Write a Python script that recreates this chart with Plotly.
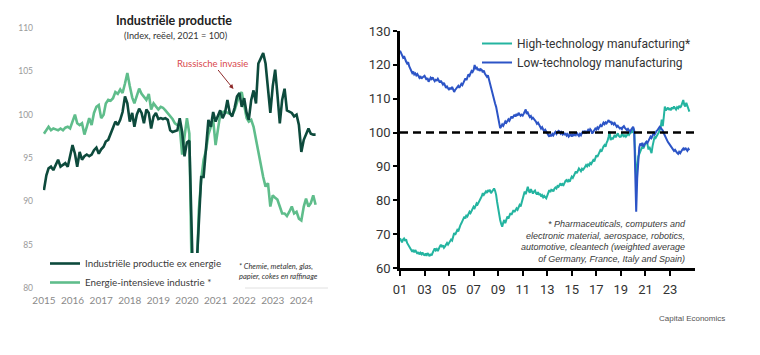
import pandas as pd
import plotly.graph_objects as go

# ---------------- Left chart data (monthly, Jan 2015 - Jul 2024) ----------------
left_start = "2015-01-01"
ind_ex_energie = [
    91.3, 93.0, 93.8, 94.0, 93.6, 94.2, 94.8, 94.0, 94.2, 94.4, 94.0, 95.2,
    96.5, 95.5, 94.0, 95.7, 94.8, 95.2, 95.4, 95.2, 95.4, 95.9, 96.2, 95.5,
    96.0, 96.3, 96.9, 97.1, 97.7, 98.5, 99.2, 98.8, 99.4, 100.3, 102.1, 101.3,
    99.2, 100.2, 98.6, 100.0, 100.7, 100.2, 99.0, 100.6, 100.2, 98.4, 99.8, 100.2,
    99.5, 99.6, 99.5, 99.6, 99.4, 98.2, 98.0, 98.1, 98.2, 99.6, 98.0, 95.2,
    96.8, 97.0, 88.0, 76.0, 82.0, 88.5, 92.8, 92.8, 95.9, 99.4, 98.6, 100.3,
    99.2, 100.0, 100.5, 99.6, 100.2, 101.7, 100.2, 99.8, 100.8, 102.1, 102.5, 100.9,
    101.9, 100.2, 99.4, 101.7, 102.8, 101.3, 105.9, 106.5, 107.1, 105.9, 102.8, 100.2,
    103.3, 105.2, 102.4, 99.0, 101.7, 103.0, 100.5, 100.3, 100.2, 99.8, 100.0, 98.8,
    95.7, 97.1, 97.7, 98.4, 97.8, 97.7, 97.7,
]
energie_intensief = [
    97.8, 98.3, 98.6, 98.2, 98.4, 98.3, 98.2, 98.4, 98.2, 98.5, 98.6, 98.4,
    99.2, 100.0, 99.0, 98.8, 99.0, 97.7, 98.6, 99.6, 98.8, 100.2, 100.9, 101.1,
    99.6, 100.0, 101.3, 101.7, 101.6, 101.9, 102.6, 102.4, 102.9, 102.5, 103.6, 104.8,
    103.3, 102.0, 101.3, 102.1, 103.0, 102.4, 102.1, 101.7, 102.4, 100.6, 101.3, 101.0,
    100.6, 100.9, 100.8, 100.5, 100.2, 99.8, 99.5, 99.0, 98.8, 98.6, 95.4, 97.7,
    99.6, 97.8, 82.0, 72.0, 80.0, 89.0, 92.5, 94.8, 95.9, 97.7, 98.6, 99.4,
    96.5, 98.6, 100.0, 100.3, 100.4, 100.2, 100.1, 100.0, 100.5, 101.5, 102.3, 102.6,
    101.2, 99.6, 99.2, 99.4, 98.6, 97.1, 95.6, 94.0, 92.8, 91.7, 92.1, 89.4,
    90.7, 90.4, 90.2, 89.4, 88.6, 88.6, 88.3, 88.8, 89.4, 88.6, 88.8, 88.0,
    87.8, 89.4, 90.3, 89.4, 89.8, 90.7, 89.6,
]
left_tick_years = ["2015", "2016", "2017", "2018", "2019", "2020", "2021", "2022", "2023", "2024"]
left_y_ticks = [80, 85, 90, 95, 100, 105, 110]

# ---------------- Right chart data (monthly, Jan 2001 - Aug 2024) ----------------
right_start = "2001-01-01"
high_tech = [
    68.8, 68.2, 67.6, 68.4, 68.7, 68.0, 68.5, 67.4, 66.8, 66.2, 65.6, 65.0,
    64.8, 65.4, 64.6, 65.3, 64.9, 64.2, 64.7, 64.0, 64.5, 64.1, 64.6, 63.9,
    63.8, 64.3, 63.6, 64.4, 64.0, 63.5, 64.2, 63.7, 64.5, 65.0, 65.8, 65.2,
    65.6, 65.0, 65.9, 66.4, 66.9, 66.2, 66.7, 66.0, 66.4, 67.0, 67.4, 66.9,
    67.5, 68.0, 68.4, 68.1, 69.2, 70.3, 69.8, 70.6, 71.2, 70.8, 72.0, 72.6,
    73.2, 73.8, 74.4, 75.2, 74.6, 75.7, 75.3, 76.0, 76.6, 76.2, 77.0, 77.6,
    78.1, 77.7, 78.6, 79.1, 78.8, 79.6, 80.3, 80.6, 81.2, 82.1, 81.6, 82.4,
    82.6, 82.2, 83.0, 82.5, 83.1, 82.1, 82.6, 83.0, 83.5, 82.8, 81.6, 79.5,
    77.1, 75.4, 74.2, 73.0, 72.2, 73.4, 74.2, 73.2, 74.5, 75.2, 74.6, 75.5,
    76.2, 75.7, 76.6, 77.1, 76.5, 77.3, 77.6, 77.2, 78.1, 78.6, 78.2, 79.4,
    80.6, 81.2, 82.6, 81.8, 83.5, 84.0, 82.8, 82.2, 83.3, 82.6, 82.0, 82.6,
    82.9, 82.1, 81.7, 82.4, 81.6, 82.0, 81.1, 81.5, 80.9, 81.3, 80.8, 80.6,
    81.4, 82.2, 83.0, 82.4, 83.1, 83.0, 82.6, 83.4, 83.8, 83.5, 84.2, 84.0,
    84.5, 85.0, 84.3, 84.8, 84.5, 85.3, 85.8, 86.0, 85.4, 85.9, 85.5, 86.3,
    87.0, 86.6, 87.4, 87.9, 88.5, 88.0, 88.7, 89.4, 89.0, 88.6, 89.3, 89.0,
    89.4, 89.9, 90.4, 90.0, 90.6, 90.3, 91.0, 90.7, 91.4, 91.9, 91.5, 92.3,
    93.3, 92.8, 93.6, 94.2, 94.8, 94.4, 95.3, 95.9, 96.3, 95.8, 97.0, 97.6,
    98.8, 100.3, 97.8, 98.5, 98.0, 98.8, 99.3, 98.6, 99.3, 99.8, 99.0, 98.7,
    98.8, 99.6, 99.3, 98.7, 99.4, 98.8, 99.2, 99.8, 99.3, 99.8, 100.3, 99.9,
    101.3, 100.4, 93.0, 86.0, 89.4, 92.9, 93.6, 94.4, 95.1, 95.9, 95.3, 96.4,
    96.8, 97.3, 96.6, 95.0, 95.8, 94.8, 93.9, 96.0, 97.5, 98.8, 98.4, 99.2,
    99.5, 100.0, 100.8, 101.6, 103.8, 101.9, 104.6, 107.7, 106.5, 106.9, 107.4, 106.7,
    107.2, 106.6, 107.5, 107.0, 107.7, 107.2, 106.8, 107.5, 107.2, 107.9, 107.3, 107.8,
    108.5, 109.6, 108.2, 107.7, 108.8, 107.9, 106.6, 106.2,
]
low_tech = [
    124.2, 123.5, 123.0, 122.2, 122.6, 121.5, 121.0, 120.4, 120.8, 119.6, 119.0, 118.2,
    117.6, 118.0, 117.2, 117.5, 116.9, 117.3, 116.8, 116.2, 116.7, 115.9, 116.3, 116.6,
    116.8, 116.2, 115.6, 116.1, 115.0, 115.5, 116.2, 115.8, 116.3, 115.7, 115.2, 115.6,
    115.4, 115.9, 115.1, 114.8, 115.3, 114.6, 114.2, 114.7, 113.8, 113.2, 113.6, 112.9,
    112.6, 113.3, 112.8, 113.5, 112.4, 112.0, 112.6, 113.0, 113.4, 113.8, 113.2, 114.0,
    114.4, 114.0, 114.8, 115.6, 116.0, 115.5, 116.4, 117.2, 116.8, 117.6, 118.2, 117.9,
    118.5, 120.0, 118.8, 119.4, 118.4, 118.9, 118.2, 118.7, 118.5, 117.8, 118.3, 117.4,
    117.0, 116.5, 116.9, 115.6, 115.0, 114.0, 112.5, 111.0, 110.0, 108.6, 107.6, 106.0,
    104.6, 103.0, 101.3, 101.8, 102.4, 102.0, 102.8, 103.3, 102.9, 103.6, 103.9, 103.5,
    104.3, 104.8, 104.2, 104.9, 105.3, 104.7, 105.5, 105.0, 105.8, 105.4, 105.0, 105.3,
    105.0, 105.6, 106.2, 106.8, 105.5, 105.9, 105.2, 104.6, 104.9, 104.1, 104.4, 103.8,
    103.6, 103.2, 102.6, 102.9, 102.1, 101.8, 101.2, 101.6, 100.9, 100.4, 100.8, 100.2,
    99.8, 99.3, 98.8, 99.4, 98.9, 99.6, 99.2, 99.8, 100.2, 99.6, 100.0, 100.5,
    100.3, 99.7, 100.1, 99.5, 99.9, 99.3, 99.8, 99.1, 99.5, 98.8, 99.2, 99.6,
    98.8, 99.4, 99.0, 99.7, 99.3, 100.0, 99.4, 99.0, 99.6, 99.2, 99.9, 100.3,
    100.0, 100.5, 99.8, 100.4, 100.8, 100.3, 101.0, 100.6, 99.7, 100.2, 100.8, 101.2,
    100.9, 101.5, 101.1, 101.8, 102.2, 101.7, 102.4, 102.9, 102.5, 103.0, 102.7, 103.3,
    103.7, 103.0, 103.4, 102.6, 102.9, 102.4, 102.8, 102.2, 101.7, 102.0, 101.5, 101.2,
    101.4, 101.0, 101.6, 101.9, 101.4, 101.0, 100.7, 101.1, 100.4, 100.2, 100.8, 101.3,
    101.7, 100.6, 88.0, 76.6, 86.5, 93.0, 95.6, 96.8, 96.2, 97.0, 95.8, 96.5,
    96.8, 97.3, 96.9, 97.6, 98.2, 98.8, 98.4, 99.2, 99.8, 99.4, 100.1, 100.5,
    100.8, 101.2, 101.7, 101.4, 101.0, 100.6, 99.8, 99.0, 98.6, 97.8, 97.2, 96.8,
    96.4, 95.9, 95.5, 95.3, 94.6, 94.9, 94.3, 94.0, 93.7, 94.3, 93.9, 94.6,
    94.9, 95.3, 94.8, 95.5, 95.1, 94.6, 95.2, 94.8,
]
right_tick_labels = ["01", "03", "05", "07", "09", "11", "13", "15", "17", "19", "21", "23"]
right_y_ticks = [60, 70, 80, 90, 100, 110, 120, 130]
reference_level = 100

# ---------------- Styling ----------------
DARK = "#0d4a3c"
LIGHT = "#5fbd8b"
TEAL = "#24b4a0"
BLUE = "#2c54c6"
NARROW = "Liberation Sans Narrow, Roboto, sans-serif"
HUMAN = "Lato, Open Sans, sans-serif"
ARIAL = "Liberation Sans, Arial, sans-serif"

# page geometry: the page body adds an 8px offset, positions below are in screen pixels
W, H, OFF = 760, 355, 8


def px(x):
    return (x - OFF) / W


def py(y):
    return 1 - (y - OFF) / H


left_dates = pd.date_range(left_start, periods=len(ind_ex_energie), freq="MS")
left_dates_b = pd.date_range(left_start, periods=len(energie_intensief), freq="MS")
right_dates_h = pd.date_range(right_start, periods=len(high_tech), freq="MS")
right_dates_l = pd.date_range(right_start, periods=len(low_tech), freq="MS")

fig = go.Figure()
fig.add_trace(go.Scatter(x=left_dates_b, y=energie_intensief, mode="lines",
                         name="Energie-intensieve industrie *", legendrank=2,
                         line=dict(color=LIGHT, width=2.6), xaxis="x", yaxis="y",
                         legend="legend"))
fig.add_trace(go.Scatter(x=left_dates, y=ind_ex_energie, mode="lines",
                         name="Industriële productie ex energie", legendrank=1,
                         line=dict(color=DARK, width=2.6), xaxis="x", yaxis="y",
                         legend="legend"))
fig.add_trace(go.Scatter(x=right_dates_h, y=high_tech, mode="lines",
                         name="High-technology manufacturing*",
                         line=dict(color=TEAL, width=2), xaxis="x2", yaxis="y2",
                         legend="legend2"))
fig.add_trace(go.Scatter(x=right_dates_l, y=low_tech, mode="lines",
                         name="Low-technology manufacturing",
                         line=dict(color=BLUE, width=2), xaxis="x2", yaxis="y2",
                         legend="legend2"))

left_tickvals = [f"{y}-01-01" for y in left_tick_years]
right_tickvals = [f"20{t}-01-01" for t in right_tick_labels]

axis_black = dict(showgrid=False, zeroline=False, showline=True, linecolor="black",
                  linewidth=2.5, ticks="outside", tickwidth=2, tickcolor="black",
                  automargin=False)

fig.update_layout(
    width=W, height=H,
    margin=dict(l=0, r=0, t=0, b=0, autoexpand=False),
    paper_bgcolor="white", plot_bgcolor="white",
    showlegend=True,
    xaxis=dict(domain=[px(43), px(330)], anchor="y", type="date", automargin=False,
               range=["2014-12-20", "2025-01-01"], showgrid=False, zeroline=False,
               showline=False, ticks="", tickvals=left_tickvals, ticktext=left_tick_years,
               tickfont=dict(family=HUMAN, size=10, color="#8a8a8a"), ticklabelstandoff=5),
    yaxis=dict(domain=[py(288), py(28)], anchor="x", automargin=False,
               range=[80, 110], showgrid=False, zeroline=False, showline=False, ticks="",
               tickvals=left_y_ticks,
               tickfont=dict(family=HUMAN, size=8.5, color="#9a9a9a"), ticklabelstandoff=9),
    xaxis2=dict(domain=[px(400), px(695)], anchor="y2", type="date",
                range=["2001-01-01", "2025-01-15"], ticklen=5, ticklabelstandoff=3,
                tickvals=right_tickvals, ticktext=right_tick_labels,
                tickfont=dict(family=NARROW, size=13, color="#333333"), **axis_black),
    yaxis2=dict(domain=[py(268), py(31)], anchor="x2", range=[60, 130], ticklen=4,
                tickvals=right_y_ticks,
                tickfont=dict(family=NARROW, size=13, color="#333333"), **axis_black),
    yaxis3=dict(overlaying="y2", side="right", anchor="x2", range=[60, 130], ticklen=4,
                tickvals=right_y_ticks,
                tickfont=dict(family=NARROW, size=13, color="#333333"), **axis_black),
    legend=dict(x=px(45), y=py(249), xanchor="left", yanchor="top",
                bgcolor="rgba(0,0,0,0)", font=dict(family=HUMAN, size=9.8, color="#3a3a3a"),
                tracegroupgap=0),
    legend2=dict(x=px(477), y=py(29), xanchor="left", yanchor="top",
                 bgcolor="rgba(0,0,0,0)", font=dict(family=NARROW, size=12, color="#333333"),
                 tracegroupgap=0),
)

# dashed 100 line on right chart
fig.add_shape(type="line", xref="x2 domain", x0=0, x1=1, yref="y2",
              y0=reference_level, y1=reference_level,
              line=dict(color="black", width=2.5, dash="8px,5px"))
# white legend panel on the left chart (hides the lines underneath, as in the original)
fig.add_shape(type="rect", xref="paper", yref="paper", layer="above",
              x0=px(57), x1=px(236), y0=py(292), y1=py(253),
              fillcolor="white", line=dict(width=0))
# faint baseline on the left chart (visible part)
fig.add_shape(type="line", xref="x domain", x0=0.704, x1=0.993, yref="y domain",
              y0=0, y1=0, line=dict(color="#e0e0e0", width=1))

annotations = [
    dict(text="<b>Industriële productie</b>", x=px(174), y=py(21),
         xref="paper", yref="paper", showarrow=False, xanchor="center", yanchor="middle",
         font=dict(family=HUMAN, size=12.5, color="#222222")),
    dict(text="(Index, reëel, 2021 = 100)", x=px(176), y=py(35),
         xref="paper", yref="paper", showarrow=False, xanchor="center", yanchor="middle",
         font=dict(family=HUMAN, size=9.2, color="#333333")),
    dict(text="Russische invasie", x="2021-08-17", y=102.96, xref="x", yref="y",
         showarrow=True, ax=-21, ay=-26, arrowhead=2, arrowsize=0.9, arrowwidth=1,
         arrowcolor="#8e2a2a", font=dict(family=HUMAN, size=9.5, color="#d9484d")),
    dict(text="<i>* Chemie, metalen, glas,<br>papier, cokes en raffinage</i>",
         x=px(237), y=py(271), xref="paper", yref="paper", showarrow=False,
         xanchor="left", yanchor="middle", align="left",
         font=dict(family=HUMAN, size=7.5, color="#333333")),
    dict(text="<i>* Pharmaceuticals, computers and<br>electronic material, aerospace, robotics,"
              "<br>automotive, cleantech (weighted average<br>of Germany, France, Italy and Spain)</i>",
         x=px(688), y=py(241), xref="paper", yref="paper", showarrow=False,
         xanchor="right", yanchor="middle", align="right",
         font=dict(family=ARIAL, size=9, color="#3a3a3a")),
    dict(text="Capital Economics", x=px(692), y=py(318), xref="paper",
         yref="paper", showarrow=False, xanchor="center", yanchor="middle",
         font=dict(family=ARIAL, size=8, color="#555555")),
]
fig.update_layout(annotations=annotations)

fig.write_html("out.html")
